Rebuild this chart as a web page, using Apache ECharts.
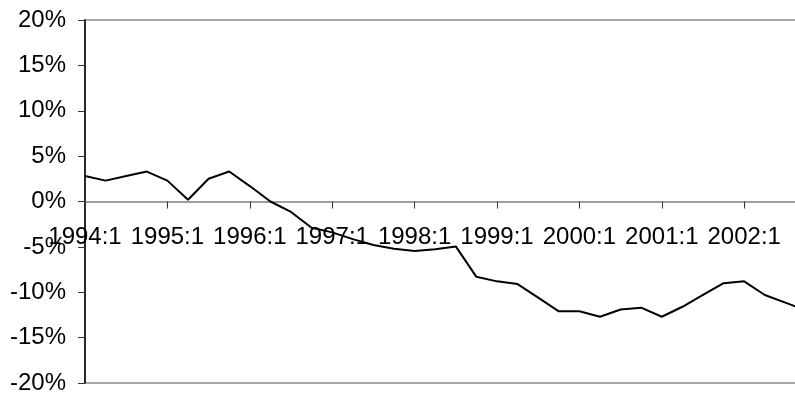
<!DOCTYPE html>
<html>
<head>
<meta charset="utf-8">
<script src="https://cdn.jsdelivr.net/npm/echarts@6/dist/echarts.min.js"></script>
<style>html,body{margin:0;padding:0;background:#fff}#c{width:795px;height:396px}</style>
</head>
<body>
<div id="c"></div>
<script>
var categories = [
  '1994:1','1994:2','1994:3','1994:4',
  '1995:1','1995:2','1995:3','1995:4',
  '1996:1','1996:2','1996:3','1996:4',
  '1997:1','1997:2','1997:3','1997:4',
  '1998:1','1998:2','1998:3','1998:4',
  '1999:1','1999:2','1999:3','1999:4',
  '2000:1','2000:2','2000:3','2000:4',
  '2001:1','2001:2','2001:3','2001:4',
  '2002:1','2002:2','2002:3','2002:4'
];
var values = [
  2.8, 2.3, 2.8, 3.3,
  2.3, 0.2, 2.5, 3.3,
  1.7, 0.0, -1.15, -2.9,
  -3.4, -4.15, -4.8, -5.2,
  -5.45, -5.25, -4.95, -8.3,
  -8.8, -9.1, -10.6, -12.1,
  -12.1, -12.7, -11.9, -11.7,
  -12.7, -11.6, -10.3, -9.0,
  -8.8, -10.3, -11.15, -12.0
];
var yMin = -20, yMax = 20, yStep = 5;

var font = 'Liberation Sans, Arial, sans-serif';
var chart = echarts.init(document.getElementById('c'));
chart.setOption({
  animation: false,
  grid: [
    { left: 85, right: -11, top: 20, bottom: 13, show: true, borderColor: '#8a8a8a', borderWidth: 1.5, containLabel: false, outerBoundsMode: 'none' },
    { left: 85, right: -11, top: 20, bottom: 193, show: false, containLabel: false, outerBoundsMode: 'none' }
  ],
  xAxis: [{
    type: 'category',
    gridIndex: 0,
    data: categories,
    boundaryGap: false,
    axisLine: { onZero: true, lineStyle: { color: '#808080', width: 1.5 } },
    axisTick: { show: true, interval: 3, length: 7, lineStyle: { color: '#333', width: 1 } },
    axisLabel: { show: false },
    splitLine: { show: false }
  }, {
    type: 'category',
    gridIndex: 1,
    data: categories,
    boundaryGap: false,
    axisLine: { show: false, onZero: false },
    axisTick: { show: false },
    axisLabel: { interval: 3, margin: 22, color: '#000', fontSize: 24, fontFamily: font },
    splitLine: { show: false }
  }],
  yAxis: [{
    type: 'value',
    gridIndex: 0,
    min: yMin, max: yMax, interval: yStep,
    axisLine: { show: true, lineStyle: { color: '#000', width: 1.5 } },
    axisTick: { show: true, length: 7, lineStyle: { color: '#333' } },
    axisLabel: { formatter: '{value}%', margin: 19, color: '#000', fontSize: 24, fontFamily: font },
    splitLine: { show: false }
  }, {
    type: 'value',
    gridIndex: 1,
    show: false,
    min: 0, max: 1
  }],
  series: [{
    type: 'line',
    xAxisIndex: 0,
    yAxisIndex: 0,
    data: values,
    symbol: 'none',
    lineStyle: { color: '#000', width: 2 },
    z: 3
  }]
});
</script>
</body>
</html>
